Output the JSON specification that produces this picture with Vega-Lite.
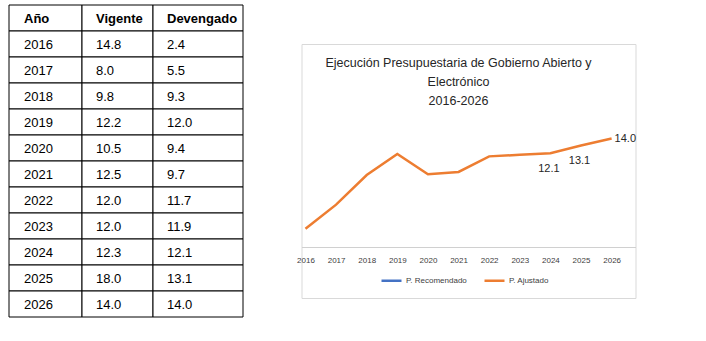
{
  "$schema": "https://vega.github.io/schema/vega-lite/v6.json",
  "padding": {"left": 8, "top": 4, "right": 0, "bottom": 0},
  "background": "white",
  "config": {"view": {"stroke": null}, "font": "Liberation Sans"},
  "datasets": {
    "tabla": [
      {"col": "Año", "fila": 0, "txt": "Año"}, {"col": "Vigente", "fila": 0, "txt": "Vigente"}, {"col": "Devengado", "fila": 0, "txt": "Devengado"},
      {"col": "Año", "fila": 1, "txt": "2016"}, {"col": "Vigente", "fila": 1, "txt": "14.8"}, {"col": "Devengado", "fila": 1, "txt": "2.4"},
      {"col": "Año", "fila": 2, "txt": "2017"}, {"col": "Vigente", "fila": 2, "txt": "8.0"}, {"col": "Devengado", "fila": 2, "txt": "5.5"},
      {"col": "Año", "fila": 3, "txt": "2018"}, {"col": "Vigente", "fila": 3, "txt": "9.8"}, {"col": "Devengado", "fila": 3, "txt": "9.3"},
      {"col": "Año", "fila": 4, "txt": "2019"}, {"col": "Vigente", "fila": 4, "txt": "12.2"}, {"col": "Devengado", "fila": 4, "txt": "12.0"},
      {"col": "Año", "fila": 5, "txt": "2020"}, {"col": "Vigente", "fila": 5, "txt": "10.5"}, {"col": "Devengado", "fila": 5, "txt": "9.4"},
      {"col": "Año", "fila": 6, "txt": "2021"}, {"col": "Vigente", "fila": 6, "txt": "12.5"}, {"col": "Devengado", "fila": 6, "txt": "9.7"},
      {"col": "Año", "fila": 7, "txt": "2022"}, {"col": "Vigente", "fila": 7, "txt": "12.0"}, {"col": "Devengado", "fila": 7, "txt": "11.7"},
      {"col": "Año", "fila": 8, "txt": "2023"}, {"col": "Vigente", "fila": 8, "txt": "12.0"}, {"col": "Devengado", "fila": 8, "txt": "11.9"},
      {"col": "Año", "fila": 9, "txt": "2024"}, {"col": "Vigente", "fila": 9, "txt": "12.3"}, {"col": "Devengado", "fila": 9, "txt": "12.1"},
      {"col": "Año", "fila": 10, "txt": "2025"}, {"col": "Vigente", "fila": 10, "txt": "18.0"}, {"col": "Devengado", "fila": 10, "txt": "13.1"},
      {"col": "Año", "fila": 11, "txt": "2026"}, {"col": "Vigente", "fila": 11, "txt": "14.0"}, {"col": "Devengado", "fila": 11, "txt": "14.0"}
    ],
    "serie": [
      {"anio": 2016, "valor": 2.4, "serie": "P. Ajustado"},
      {"anio": 2017, "valor": 5.5, "serie": "P. Ajustado"},
      {"anio": 2018, "valor": 9.3, "serie": "P. Ajustado"},
      {"anio": 2019, "valor": 12.0, "serie": "P. Ajustado"},
      {"anio": 2020, "valor": 9.4, "serie": "P. Ajustado"},
      {"anio": 2021, "valor": 9.7, "serie": "P. Ajustado"},
      {"anio": 2022, "valor": 11.7, "serie": "P. Ajustado"},
      {"anio": 2023, "valor": 11.9, "serie": "P. Ajustado"},
      {"anio": 2024, "valor": 12.1, "serie": "P. Ajustado"},
      {"anio": 2025, "valor": 13.1, "serie": "P. Ajustado"},
      {"anio": 2026, "valor": 14.0, "serie": "P. Ajustado"}
    ]
  },
  "bounds": "full",
  "spacing": 51.5,
  "hconcat": [
    {
      "bounds": "flush",
      "spacing": 0,
      "hconcat": [
        {
          "width": 73, "height": 312,
          "data": {"name": "tabla"},
          "transform": [{"filter": "datum.col == 'Año'"}],
          "encoding": {"y": {"field": "fila", "type": "ordinal", "axis": null, "scale": {"paddingInner": 0, "paddingOuter": 0}}},
          "layer": [
            {"mark": {"type": "rect", "fill": "white", "stroke": "black", "strokeWidth": 1}},
            {"transform": [{"filter": "datum.fila > 0"}], "mark": {"type": "text", "align": "left", "dx": -21.5, "dy": 1, "fontSize": 13, "color": "black"}, "encoding": {"text": {"field": "txt"}}},
            {"transform": [{"filter": "datum.fila == 0"}], "mark": {"type": "text", "align": "left", "dx": -21.5, "dy": 1, "fontSize": 13, "fontWeight": "bold", "color": "black"}, "encoding": {"text": {"field": "txt"}}}
          ]
        },
        {
          "width": 71, "height": 312,
          "data": {"name": "tabla"},
          "transform": [{"filter": "datum.col == 'Vigente'"}],
          "encoding": {"y": {"field": "fila", "type": "ordinal", "axis": null, "scale": {"paddingInner": 0, "paddingOuter": 0}}},
          "layer": [
            {"mark": {"type": "rect", "fill": "white", "stroke": "black", "strokeWidth": 1}},
            {"transform": [{"filter": "datum.fila > 0"}], "mark": {"type": "text", "align": "left", "dx": -21.5, "dy": 1, "fontSize": 13, "color": "black"}, "encoding": {"text": {"field": "txt"}}},
            {"transform": [{"filter": "datum.fila == 0"}], "mark": {"type": "text", "align": "left", "dx": -21.5, "dy": 1, "fontSize": 13, "fontWeight": "bold", "color": "black"}, "encoding": {"text": {"field": "txt"}}}
          ]
        },
        {
          "width": 90, "height": 312,
          "data": {"name": "tabla"},
          "transform": [{"filter": "datum.col == 'Devengado'"}],
          "encoding": {"y": {"field": "fila", "type": "ordinal", "axis": null, "scale": {"paddingInner": 0, "paddingOuter": 0}}},
          "layer": [
            {"mark": {"type": "rect", "fill": "white", "stroke": "black", "strokeWidth": 1}},
            {"transform": [{"filter": "datum.fila > 0"}], "mark": {"type": "text", "align": "left", "dx": -31, "dy": 1, "fontSize": 13, "color": "black"}, "encoding": {"text": {"field": "txt"}}},
            {"transform": [{"filter": "datum.fila == 0"}], "mark": {"type": "text", "align": "left", "dx": -31, "dy": 1, "fontSize": 13, "fontWeight": "bold", "color": "black"}, "encoding": {"text": {"field": "txt"}}}
          ]
        }
      ]
    },
    {
      "bounds": "flush",
      "spacing": 38,
      "vconcat": [
        {
          "width": 334, "height": 1,
          "data": {"values": []},
          "mark": {"type": "rect", "opacity": 0},
          "encoding": {}
        },
        {
          "width": 334, "height": 254,
          "view": {"stroke": "#d9d9d9", "strokeWidth": 1},
          "data": {"name": "serie"},
          "title": {
            "text": ["Ejecución Presupuestaria de Gobierno Abierto y", "Electrónico", "2016-2026"],
            "fontSize": 12.5, "fontWeight": "normal", "color": "#262626", "anchor": "middle",
            "offset": -63, "lineHeight": 19, "dx": -10
          },
          "encoding": {
            "x": {
              "field": "anio", "type": "quantitative",
              "scale": {"domain": [2015.87, 2026.78], "nice": false, "zero": false},
              "axis": {
                "values": [2016, 2017, 2018, 2019, 2020, 2021, 2022, 2023, 2024, 2025, 2026],
                "format": "d", "domain": true, "domainColor": "#d0d0d0", "domainWidth": 1,
                "ticks": false, "grid": false,
                "labelPadding": 9, "labelFontSize": 8, "labelColor": "#404040",
                "title": null, "offset": -51, "labelFlush": false, "labelOverlap": false
              }
            },
            "y": {
              "field": "valor", "type": "quantitative",
              "scale": {"domain": [-6.49, 26.13], "nice": false, "zero": false},
              "axis": null
            }
          },
          "layer": [
            {
              "mark": {"type": "line", "strokeWidth": 2.5},
              "encoding": {
                "color": {
                  "field": "serie", "type": "nominal",
                  "scale": {"domain": ["P. Recomendado", "P. Ajustado"], "range": ["#4472c4", "#ed7d31"]},
                  "legend": {
                    "title": null, "orient": "none", "legendX": 371, "legendY": 264,
                    "direction": "horizontal", "symbolType": "stroke", "symbolSize": 400,
                    "symbolStrokeWidth": 2.5, "labelFontSize": 8, "labelColor": "#404040",
                    "labelOffset": 3, "columnPadding": 12, "padding": 0
                  }
                }
              }
            },
            {
              "transform": [{"filter": "datum.anio == 2024 || datum.anio == 2025"}],
              "mark": {"type": "text", "dy": 16, "dx": -1.5, "fontSize": 11, "color": "#262626"},
              "encoding": {"text": {"field": "valor", "format": ".1f"}}
            },
            {
              "transform": [{"filter": "datum.anio == 2026"}],
              "mark": {"type": "text", "align": "left", "dx": 3, "dy": 0.5, "fontSize": 11, "color": "#262626"},
              "encoding": {"text": {"field": "valor", "format": ".1f"}}
            }
          ]
        }
      ]
    }
  ]
}
